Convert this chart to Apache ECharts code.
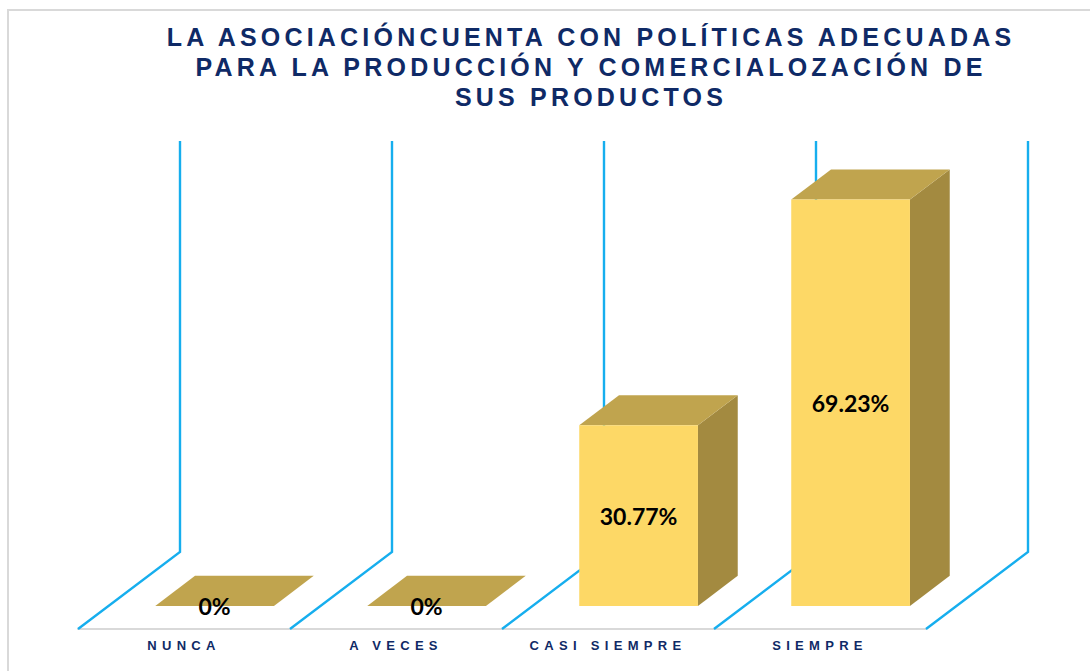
<!DOCTYPE html>
<html>
<head>
<meta charset="utf-8">
<script src="https://cdn.jsdelivr.net/npm/echarts@6/dist/echarts.min.js"></script>
<style>
html,body{margin:0;padding:0;background:#ffffff;}
#chart{width:1090px;height:671px;}
</style>
</head>
<body>
<div id="chart"></div>
<script>
// ---- data ----
const titleLines = ['LA ASOCIACIÓNCUENTA CON POLÍTICAS ADECUADAS', 'PARA LA PRODUCCIÓN Y COMERCIALOZACIÓN DE', 'SUS PRODUCTOS'];
const categories = ['NUNCA', 'A VECES', 'CASI SIEMPRE', 'SIEMPRE'];
const values = [0, 0, 30.77, 69.23];
const axisMax = 70;

// ---- style constants ----
const NAVY = '#0f2a66';
const BLUE = '#16aeee';
const FRONT = '#fdd866';
const TOP = '#c0a44e';
const SIDE = '#a38a40';
const DEPTH_DX = 102, DEPTH_DY = -77;   // full floor depth
const FRONT_FRAC = 0.30, BAR_FRAC = 0.39, BAR_RATIO = 0.56;
const TITLE_SIZE = 25, AXIS_SIZE = 13;

const chart = echarts.init(document.getElementById('chart'), null, {renderer: 'svg'});

function renderWalls(params, api) {
  const i = api.value(0);
  const c = api.coord([i, 0]);
  const topY = api.coord([i, axisMax])[1];
  const bw = api.size([1, 0])[0];
  const xs = [c[0] - bw / 2];
  if (i === categories.length - 1) xs.push(c[0] + bw / 2);
  return {
    type: 'group',
    children: xs.map(x => ({
      type: 'polyline',
      shape: {points: [[x, c[1]], [x + DEPTH_DX, c[1] + DEPTH_DY], [x + DEPTH_DX, topY + DEPTH_DY]]},
      style: {stroke: BLUE, lineWidth: 2.4, fill: null},
      silent: true
    }))
  };
}

function renderBars(params, api) {
  const i = api.value(0), v = api.value(1);
  const base = api.coord([i, 0]);
  const tp = api.coord([i, v]);
  const bw = api.size([1, 0])[0] * BAR_RATIO;
  const fdx = DEPTH_DX * FRONT_FRAC, fdy = DEPTH_DY * FRONT_FRAC;
  const bdx = DEPTH_DX * BAR_FRAC, bdy = DEPTH_DY * BAR_FRAC;
  const x0 = base[0] + fdx - bw / 2, x1 = x0 + bw;
  const y0 = base[1] + fdy, y1 = tp[1] + fdy;
  return {
    type: 'group',
    children: [
      {type: 'polygon', shape: {points: [[x1, y1], [x1 + bdx, y1 + bdy], [x1 + bdx, y0 + bdy], [x1, y0]]}, style: {fill: SIDE}},
      {type: 'polygon', shape: {points: [[x0, y1], [x1, y1], [x1 + bdx, y1 + bdy], [x0 + bdx, y1 + bdy]]}, style: {fill: TOP}},
      {type: 'polygon', shape: {points: [[x0, y1], [x1, y1], [x1, y0], [x0, y0]]}, style: {fill: FRONT}},
      {type: 'text', x: (x0 + x1) / 2, y: (y0 + y1) / 2,
        style: {text: v + '%', fill: '#000000', font: 'bold 23px Lato, "Open Sans", sans-serif', align: 'center', verticalAlign: 'middle'}}
    ]
  };
}

chart.setOption({
  animation: false,
  backgroundColor: '#ffffff',
  title: {
    text: titleLines.join('\n'),
    left: 591, top: 22, textAlign: 'center', padding: 0,
    textStyle: {fontSize: TITLE_SIZE, fontWeight: 'bold', fontFamily: '"Liberation Sans", Arial, sans-serif', color: NAVY, lineHeight: 30}
  },
  graphic: [{
    type: 'rect', silent: true, z: -10,
    shape: {x: 8, y: 10, width: 1100, height: 700},
    style: {fill: null, stroke: '#d9d9d9', lineWidth: 2}
  }],
  grid: {left: 78, right: 164, top: 218, bottom: 42, containLabel: false},
  xAxis: {
    type: 'category', data: categories, boundaryGap: true,
    axisLine: {show: true, lineStyle: {color: '#d9d9d9', width: 2}},
    axisTick: {show: false},
    axisLabel: {color: NAVY, fontSize: AXIS_SIZE, fontWeight: 'bold', fontFamily: '"Liberation Sans", Arial, sans-serif', margin: 10},
    splitLine: {show: false}
  },
  yAxis: {type: 'value', min: 0, max: axisMax, show: false, splitLine: {show: false}},
  series: [
    {type: 'custom', name: 'walls', z: 1, renderItem: renderWalls, data: categories.map((c, i) => [i]), silent: true},
    {type: 'custom', name: 'bars', z: 2, renderItem: renderBars, data: values.map((v, i) => [i, v])}
  ]
});

function spaceOut() {
  document.querySelectorAll('#chart svg text').forEach(t => {
    const fs = parseFloat(getComputedStyle(t).fontSize);
    if (Math.abs(fs - TITLE_SIZE) < 0.5) t.style.letterSpacing = '4.2px';
    else if (Math.abs(fs - AXIS_SIZE) < 0.5) t.style.letterSpacing = '5.3px';
  });
}
chart.on('finished', spaceOut);
spaceOut();
</script>
</body>
</html>
